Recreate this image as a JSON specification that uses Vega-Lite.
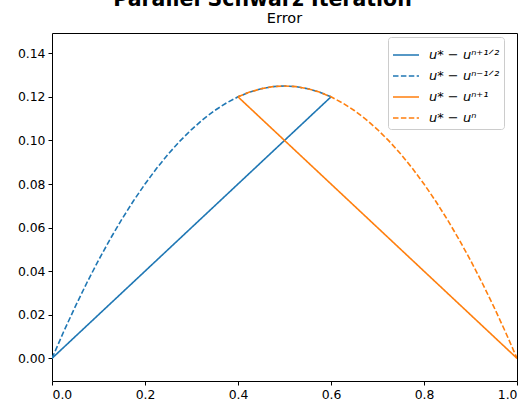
{
  "$schema": "https://vega.github.io/schema/vega-lite/v6.json",
  "width": 465,
  "height": 348,
  "autosize": {"type": "none"},
  "padding": {"left": 52, "top": 33, "right": 12, "bottom": 22},
  "background": "white",
  "title": {
    "text": "Parallel Schwarz Iteration",
    "subtitle": "Error",
    "anchor": "middle",
    "font": "DejaVu Sans",
    "fontSize": 20.5,
    "fontWeight": "bold",
    "color": "#000",
    "subtitleFont": "DejaVu Sans",
    "subtitleFontSize": 14.5,
    "subtitleColor": "#000",
    "subtitlePadding": 1,
    "offset": 8,
    "encode": {"title": {"update": {"dx": {"value": -22}}}}
  },
  "config": {
    "view": {"stroke": "#000", "strokeWidth": 1},
    "axis": {
      "grid": false,
      "domain": false,
      "tickColor": "#000",
      "tickSize": 4,
      "labelFont": "DejaVu Sans",
      "labelFontSize": 12.4,
      "labelColor": "#000",
      "labelPadding": 3,
      "title": null
    }
  },
  "data": {
    "values": [
      {"series": "u* − uⁿ⁺¹ᐟ²", "x": 0, "y": 0},
      {"series": "u* − uⁿ⁺¹ᐟ²", "x": 0.6, "y": 0.12},
      {"series": "u* − uⁿ⁻¹ᐟ²", "x": 0, "y": 0},
      {"series": "u* − uⁿ⁻¹ᐟ²", "x": 0.025, "y": 0.0121875},
      {"series": "u* − uⁿ⁻¹ᐟ²", "x": 0.05, "y": 0.02375},
      {"series": "u* − uⁿ⁻¹ᐟ²", "x": 0.075, "y": 0.0346875},
      {"series": "u* − uⁿ⁻¹ᐟ²", "x": 0.1, "y": 0.045},
      {"series": "u* − uⁿ⁻¹ᐟ²", "x": 0.125, "y": 0.0546875},
      {"series": "u* − uⁿ⁻¹ᐟ²", "x": 0.15, "y": 0.06375},
      {"series": "u* − uⁿ⁻¹ᐟ²", "x": 0.175, "y": 0.0721875},
      {"series": "u* − uⁿ⁻¹ᐟ²", "x": 0.2, "y": 0.08},
      {"series": "u* − uⁿ⁻¹ᐟ²", "x": 0.225, "y": 0.0871875},
      {"series": "u* − uⁿ⁻¹ᐟ²", "x": 0.25, "y": 0.09375},
      {"series": "u* − uⁿ⁻¹ᐟ²", "x": 0.275, "y": 0.0996875},
      {"series": "u* − uⁿ⁻¹ᐟ²", "x": 0.3, "y": 0.105},
      {"series": "u* − uⁿ⁻¹ᐟ²", "x": 0.325, "y": 0.1096875},
      {"series": "u* − uⁿ⁻¹ᐟ²", "x": 0.35, "y": 0.11375},
      {"series": "u* − uⁿ⁻¹ᐟ²", "x": 0.375, "y": 0.1171875},
      {"series": "u* − uⁿ⁻¹ᐟ²", "x": 0.4, "y": 0.12},
      {"series": "u* − uⁿ⁻¹ᐟ²", "x": 0.425, "y": 0.1221875},
      {"series": "u* − uⁿ⁻¹ᐟ²", "x": 0.45, "y": 0.12375},
      {"series": "u* − uⁿ⁻¹ᐟ²", "x": 0.475, "y": 0.1246875},
      {"series": "u* − uⁿ⁻¹ᐟ²", "x": 0.5, "y": 0.125},
      {"series": "u* − uⁿ⁻¹ᐟ²", "x": 0.525, "y": 0.1246875},
      {"series": "u* − uⁿ⁻¹ᐟ²", "x": 0.55, "y": 0.12375},
      {"series": "u* − uⁿ⁻¹ᐟ²", "x": 0.575, "y": 0.1221875},
      {"series": "u* − uⁿ⁻¹ᐟ²", "x": 0.6, "y": 0.12},
      {"series": "u* − uⁿ⁺¹", "x": 0.4, "y": 0.12},
      {"series": "u* − uⁿ⁺¹", "x": 1, "y": 0},
      {"series": "u* − uⁿ", "x": 0.4, "y": 0.12},
      {"series": "u* − uⁿ", "x": 0.425, "y": 0.1221875},
      {"series": "u* − uⁿ", "x": 0.45, "y": 0.12375},
      {"series": "u* − uⁿ", "x": 0.475, "y": 0.1246875},
      {"series": "u* − uⁿ", "x": 0.5, "y": 0.125},
      {"series": "u* − uⁿ", "x": 0.525, "y": 0.1246875},
      {"series": "u* − uⁿ", "x": 0.55, "y": 0.12375},
      {"series": "u* − uⁿ", "x": 0.575, "y": 0.1221875},
      {"series": "u* − uⁿ", "x": 0.6, "y": 0.12},
      {"series": "u* − uⁿ", "x": 0.625, "y": 0.1171875},
      {"series": "u* − uⁿ", "x": 0.65, "y": 0.11375},
      {"series": "u* − uⁿ", "x": 0.675, "y": 0.1096875},
      {"series": "u* − uⁿ", "x": 0.7, "y": 0.105},
      {"series": "u* − uⁿ", "x": 0.725, "y": 0.0996875},
      {"series": "u* − uⁿ", "x": 0.75, "y": 0.09375},
      {"series": "u* − uⁿ", "x": 0.775, "y": 0.0871875},
      {"series": "u* − uⁿ", "x": 0.8, "y": 0.08},
      {"series": "u* − uⁿ", "x": 0.825, "y": 0.0721875},
      {"series": "u* − uⁿ", "x": 0.85, "y": 0.06375},
      {"series": "u* − uⁿ", "x": 0.875, "y": 0.0546875},
      {"series": "u* − uⁿ", "x": 0.9, "y": 0.045},
      {"series": "u* − uⁿ", "x": 0.925, "y": 0.0346875},
      {"series": "u* − uⁿ", "x": 0.95, "y": 0.02375},
      {"series": "u* − uⁿ", "x": 0.975, "y": 0.0121875},
      {"series": "u* − uⁿ", "x": 1, "y": 0}
    ]
  },
  "mark": {"type": "line", "strokeWidth": 1.6, "clip": true},
  "encoding": {
    "x": {
      "field": "x",
      "type": "quantitative",
      "scale": {"domain": [0, 1], "nice": false, "zero": false},
      "axis": {"values": [0, 0.2, 0.4, 0.6, 0.8, 1], "format": ".1f"}
    },
    "y": {
      "field": "y",
      "type": "quantitative",
      "scale": {"domain": [-0.0104, 0.1493], "nice": false, "zero": false},
      "axis": {"values": [0, 0.02, 0.04, 0.06, 0.08, 0.1, 0.12, 0.14], "format": ".2f"}
    },
    "color": {
      "field": "series",
      "type": "nominal",
      "sort": null,
      "title": null,
      "scale": {
        "domain": ["u* − uⁿ⁺¹ᐟ²", "u* − uⁿ⁻¹ᐟ²", "u* − uⁿ⁺¹", "u* − uⁿ"],
        "range": ["#1f77b4", "#1f77b4", "#ff7f0e", "#ff7f0e"]
      },
      "legend": {
        "orient": "none",
        "legendX": 336,
        "legendY": 4,
        "symbolType": "stroke",
        "symbolSize": 676,
        "symbolStrokeWidth": 1.6,
        "labelFont": "DejaVu Sans",
        "labelFontSize": 13,
        "labelFontStyle": "italic",
        "labelColor": "#000",
        "labelOffset": 9,
        "rowPadding": -4,
        "padding": 4,
        "fillColor": "white",
        "strokeColor": "#ccc",
        "cornerRadius": 3
      }
    },
    "strokeDash": {
      "field": "series",
      "type": "nominal",
      "sort": null,
      "title": null,
      "scale": {
        "domain": ["u* − uⁿ⁺¹ᐟ²", "u* − uⁿ⁻¹ᐟ²", "u* − uⁿ⁺¹", "u* − uⁿ"],
        "range": [[1, 0], [5.5, 2.4], [1, 0], [5.5, 2.4]]
      }
    }
  }
}
